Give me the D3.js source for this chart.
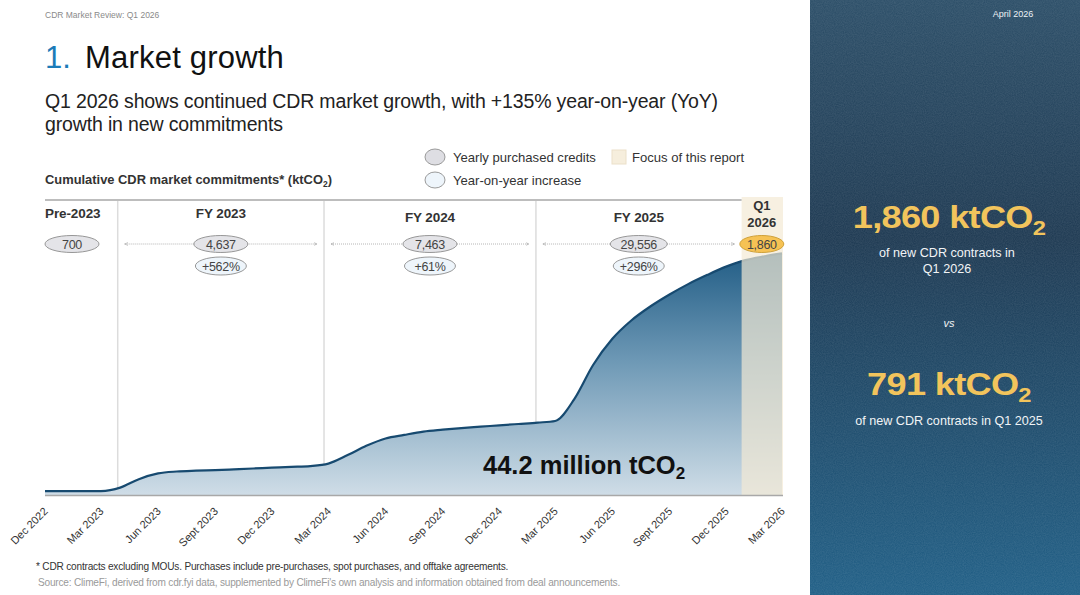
<!DOCTYPE html>
<html><head><meta charset="utf-8">
<script src="https://cdn.jsdelivr.net/npm/d3@7"></script>
<style>
body{margin:0;background:#fff;}
svg{display:block;}
text{font-family:"Liberation Sans",Arial,sans-serif;}
</style></head>
<body><svg id="c" width="1080" height="595"></svg>
<script>
// ---------- data ----------
const monthDates = ["2022-12","2023-01","2023-02","2023-03","2023-04","2023-05","2023-06","2023-07","2023-08","2023-09","2023-10","2023-11","2023-12",
  "2024-01","2024-02","2024-03","2024-04","2024-05","2024-06","2024-07","2024-08","2024-09","2024-10","2024-11","2024-12",
  "2025-01","2025-02","2025-03","2025-04","2025-05","2025-06","2025-07","2025-08","2025-09","2025-10","2025-11","2025-12",
  "2026-01","2026-02","2026-03"];
const cumulativeKt = [700,700,700,720,1350,2900,3950,4300,4450,4550,4700,4850,5000,
  5150,5300,5750,7300,9000,10350,11000,11600,11950,12250,12500,12750,
  13000,13250,13550,17600,23800,28600,31900,34500,36700,38600,40300,41800,
  43000,43700,44216];
const tickLabels = ["Dec 2022","Mar 2023","Jun 2023","Sept 2023","Dec 2023","Mar 2024","Jun 2024","Sep 2024","Dec 2024","Mar 2025","Jun 2025","Sept 2025","Dec 2025","Mar 2026"];
const tickDates = ["2022-12","2023-03","2023-06","2023-09","2023-12","2024-03","2024-06","2024-09","2024-12","2025-03","2025-06","2025-09","2025-12","2026-03"];
const periods = ["Pre-2023","FY 2023","FY 2024","FY 2025","Q1 2026"];
const yearlyCredits = [700,4637,7463,29556,1860];
const yoyIncrease = ["","+562%","+61%","+296%",""];
const dividerDates = ["2023-03-28","2024-02-23","2025-01-29","2025-12-26"];
const totalLabel = "44.2 million tCO";

// ---------- setup ----------
const svg = d3.select("#c");
const parse = d3.utcParse("%Y-%m"), parseD = d3.utcParse("%Y-%m-%d");
const data = monthDates.map((m,i)=>({date:parse(m), value:cumulativeKt[i]}));
const x = d3.scaleUtc().domain([parse("2022-12"), parse("2026-03")]).range([45,782]);
const y = d3.scaleLinear().domain([0,54000]).range([495,200]);
const divX = dividerDates.map(d=>x(parseD(d)));

const defs = svg.append("defs");
const ag = defs.append("linearGradient").attr("id","areaG").attr("gradientUnits","userSpaceOnUse")
  .attr("x1",0).attr("x2",0).attr("y1",250).attr("y2",495);
ag.append("stop").attr("offset",0).attr("stop-color","#1f5b84");
ag.append("stop").attr("offset",0.45).attr("stop-color","#6d98b5");
ag.append("stop").attr("offset",1).attr("stop-color","#cfdde7");
const pg = defs.append("linearGradient").attr("id","panelG").attr("x1",0).attr("x2",0).attr("y1",0).attr("y2",1);
pg.append("stop").attr("offset",0).attr("stop-color","#294c66");
pg.append("stop").attr("offset",0.4).attr("stop-color","#1b3750");
pg.append("stop").attr("offset",1).attr("stop-color","#1d5d85");
const nf = defs.append("filter").attr("id","noise").attr("x",0).attr("y",0).attr("width","100%").attr("height","100%");
nf.append("feTurbulence").attr("type","fractalNoise").attr("baseFrequency",0.9).attr("numOctaves",2).attr("seed",3);
nf.append("feColorMatrix").attr("type","matrix").attr("values","0 0 0 0 1  0 0 0 0 1  0 0 0 0 1  0 0 0 0.12 0");
defs.append("marker").attr("id","arrL").attr("viewBox","0 0 6 6").attr("refX",1).attr("refY",3)
  .attr("markerWidth",4).attr("markerHeight",4).attr("orient","auto")
  .append("path").attr("d","M6,0.8L1,3L6,5.2").attr("fill","none").attr("stroke","#aaa").attr("stroke-width",1);
defs.append("marker").attr("id","arrR").attr("viewBox","0 0 6 6").attr("refX",5).attr("refY",3)
  .attr("markerWidth",4).attr("markerHeight",4).attr("orient","auto")
  .append("path").attr("d","M0,0.8L5,3L0,5.2").attr("fill","none").attr("stroke","#aaa").attr("stroke-width",1);

// ---------- header ----------
svg.append("text").attr("x",45).attr("y",18).attr("font-size",8.5).attr("fill","#8a8a8a").text("CDR Market Review: Q1 2026");
const t = svg.append("text").attr("x",45).attr("y",68).attr("font-size",31).attr("font-family","Roboto, sans-serif").attr("font-weight",500);
t.append("tspan").attr("fill","#1c7bb8").text("1.");
t.append("tspan").attr("x",85).attr("fill","#111").attr("letter-spacing",0.2).text("Market growth");
svg.append("text").attr("x",45).attr("y",108).attr("font-size",19.5).attr("fill","#222").attr("letter-spacing",-0.15)
  .text("Q1 2026 shows continued CDR market growth, with +135% year-on-year (YoY)");
svg.append("text").attr("x",45).attr("y",131).attr("font-size",19.5).attr("fill","#222").attr("letter-spacing",-0.15)
  .text("growth in new commitments");
const st = svg.append("text").attr("x",45).attr("y",184).attr("font-size",12.9).attr("font-weight","bold").attr("fill","#333");
st.append("tspan").text("Cumulative CDR market commitments* (ktCO");
st.append("tspan").attr("font-size",8.5).attr("dy",3).text("2");
st.append("tspan").attr("dy",-3).text(")");

// legend
svg.append("ellipse").attr("cx",435).attr("cy",157).attr("rx",10).attr("ry",8).attr("fill","#dedee3").attr("stroke","#9a9a9a");
svg.append("text").attr("x",453).attr("y",162).attr("font-size",13.1).attr("fill","#333").text("Yearly purchased credits");
svg.append("ellipse").attr("cx",435).attr("cy",180).attr("rx",10).attr("ry",8).attr("fill","#eef5fb").attr("stroke","#9a9a9a");
svg.append("text").attr("x",453).attr("y",185).attr("font-size",13.1).attr("fill","#333").text("Year-on-year increase");
svg.append("rect").attr("x",612).attr("y",150).attr("width",14).attr("height",14).attr("fill","#f6eedd").attr("stroke","#ebe0c9");
svg.append("text").attr("x",632).attr("y",162).attr("font-size",13.1).attr("fill","#333").text("Focus of this report");

// ---------- chart ----------
const area = d3.area().x(d=>x(d.date)).y0(y(0)).y1(d=>y(d.value)).curve(d3.curveMonotoneX);
const line = d3.line().x(d=>x(d.date)).y(d=>y(d.value)).curve(d3.curveMonotoneX);

svg.selectAll("line.div").data(divX.slice(0,3)).join("line").attr("class","div")
  .attr("x1",d=>d).attr("x2",d=>d).attr("y1",y.range()[1]).attr("y2",y(0)).attr("stroke","#dcdcdc").attr("stroke-width",1.5);

svg.append("path").datum(data).attr("d",area).attr("fill","url(#areaG)");
svg.append("path").datum(data).attr("d",line).attr("fill","none").attr("stroke","#174a70").attr("stroke-width",2.2);

svg.append("rect").attr("x",divX[3]).attr("y",y.range()[1]-3).attr("width",x.range()[1]+1-divX[3]).attr("height",y(0)-y.range()[1]+3)
  .attr("fill","#f3e9d4").attr("opacity",0.7);

svg.append("line").attr("x1",45).attr("x2",divX[3]).attr("y1",y.range()[1]).attr("y2",y.range()[1]).attr("stroke","#bdbdbd").attr("stroke-width",2);
svg.append("line").attr("x1",45).attr("x2",x.range()[1]+1).attr("y1",y(0)+0.5).attr("y2",y(0)+0.5).attr("stroke","#a8a8a8").attr("stroke-width",1.5);

const ax = svg.append("g").attr("transform",`translate(0,${y(0)})`)
  .call(d3.axisBottom(x).tickValues(tickDates.map(parse)).tickFormat((d,i)=>tickLabels[i]).tickSize(0).tickPadding(0));
ax.select(".domain").remove();
ax.selectAll("text").attr("font-family","Liberation Sans, Arial, sans-serif").attr("font-size",11).attr("fill","#333")
  .attr("text-anchor","end").attr("dy",0).attr("y",0)
  .attr("transform","translate(3,17) rotate(-45)");

// period headers
const centers = [45].concat(divX).map((v,i,a)=> i<a.length-1 ? (v + a[i+1])/2 : null).slice(0,4);
centers.push((divX[3]+x.range()[1])/2);
centers[0] = 72;
const hy = [213,213,217,217];
periods.forEach((p,i)=>{
  if(i===4){
    const q = svg.append("text").attr("x",centers[i]).attr("text-anchor","middle").attr("font-size",13).attr("font-weight","bold").attr("fill","#333");
    q.append("tspan").attr("x",centers[i]).attr("y",210).text("Q1");
    q.append("tspan").attr("x",centers[i]).attr("y",227).text("2026");
  } else {
    svg.append("text").attr("x", i===0?45:centers[i]).attr("y",hy[i]+4.5).attr("text-anchor", i===0?"start":"middle")
      .attr("font-size",13.5).attr("font-weight","bold").attr("fill","#333").attr("letter-spacing",-0.1).text(p);
  }
});

[0,1,2].forEach(i=>{
  svg.append("line").attr("x1",divX[i]+7).attr("x2",divX[i+1]-7).attr("y1",244).attr("y2",244)
    .attr("stroke","#b5b5b5").attr("stroke-width",1).attr("stroke-dasharray","1,1")
    .attr("marker-start","url(#arrL)").attr("marker-end","url(#arrR)");
});

const fmt = d3.format(",");
yearlyCredits.forEach((v,i)=>{
  const cx = centers[i];
  const focus = i===4;
  const rx = focus ? 22 : (v>=10000 ? 28.5 : 27);
  svg.append("ellipse").attr("cx",cx).attr("cy",244).attr("rx",rx).attr("ry",8.5)
    .attr("fill", focus ? "#f6c254" : "#e4e4e8").attr("stroke", focus ? "#c99a2e" : "#8c8c8c").attr("stroke-width",0.9);
  svg.append("text").attr("x",cx).attr("y",248.5).attr("text-anchor","middle").attr("font-size",12.5).attr("fill","#444").attr("letter-spacing",-0.3).text(fmt(v));
  if(yoyIncrease[i]){
    svg.append("ellipse").attr("cx",cx).attr("cy",266).attr("rx",25.5).attr("ry",9)
      .attr("fill","#eef5fb").attr("stroke","#8c8c8c").attr("stroke-width",0.9);
    svg.append("text").attr("x",cx).attr("y",270.5).attr("text-anchor","middle").attr("font-size",12.5).attr("fill","#444").attr("letter-spacing",-0.3).text(yoyIncrease[i]);
  }
});

const tl = svg.append("text").attr("x",483).attr("y",474).attr("font-size",25.5).attr("font-weight","bold").attr("fill","#111");
tl.append("tspan").text(totalLabel);
tl.append("tspan").attr("font-size",17).attr("dy",5).text("2");

svg.append("text").attr("x",36).attr("y",570).attr("font-size",10.1).attr("fill","#333").attr("letter-spacing",-0.2)
  .text("* CDR contracts excluding MOUs. Purchases include pre-purchases, spot purchases, and offtake agreements.");
svg.append("text").attr("x",38).attr("y",586).attr("font-size",10.1).attr("fill","#9a9a9a").attr("letter-spacing",-0.2)
  .text("Source: ClimeFi, derived from cdr.fyi data, supplemented by ClimeFi's own analysis and information obtained from deal announcements.");

// ---------- right panel ----------
svg.append("rect").attr("x",810).attr("y",0).attr("width",270).attr("height",595).attr("fill","url(#panelG)");
svg.append("rect").attr("x",810).attr("y",0).attr("width",270).attr("height",595).attr("filter","url(#noise)");
const pf = "Inter, Roboto, sans-serif";
svg.append("text").attr("x",1013).attr("y",17).attr("text-anchor","middle").attr("font-family",pf).attr("font-size",9).attr("fill","#eef2f5").text("April 2026");
function big(yy, num){
  const b = svg.append("text").attr("transform",`translate(949,${yy}) scale(1.13,1)`).attr("text-anchor","middle").attr("font-family",pf)
    .attr("font-size",32).attr("font-weight",700).attr("fill","#f2c45c").attr("letter-spacing",-0.6);
  b.append("tspan").text(num + " ktCO");
  b.append("tspan").attr("font-size",21).attr("dy",7).text("2");
}
big(228,"1,860");
svg.append("text").attr("x",947).attr("y",257).attr("text-anchor","middle").attr("font-family",pf).attr("font-size",12.6).attr("fill","#f2f4f6").text("of new CDR contracts in");
svg.append("text").attr("x",947).attr("y",273).attr("text-anchor","middle").attr("font-family",pf).attr("font-size",12.6).attr("fill","#f2f4f6").text("Q1 2026");
svg.append("text").attr("x",949).attr("y",327).attr("text-anchor","middle").attr("font-family",pf).attr("font-size",11).attr("font-style","italic").attr("fill","#f2f4f6").text("vs");
big(395,"791");
svg.append("text").attr("x",949).attr("y",425).attr("text-anchor","middle").attr("font-family",pf).attr("font-size",12.6).attr("fill","#f2f4f6").text("of new CDR contracts in Q1 2025");
</script></body></html>
